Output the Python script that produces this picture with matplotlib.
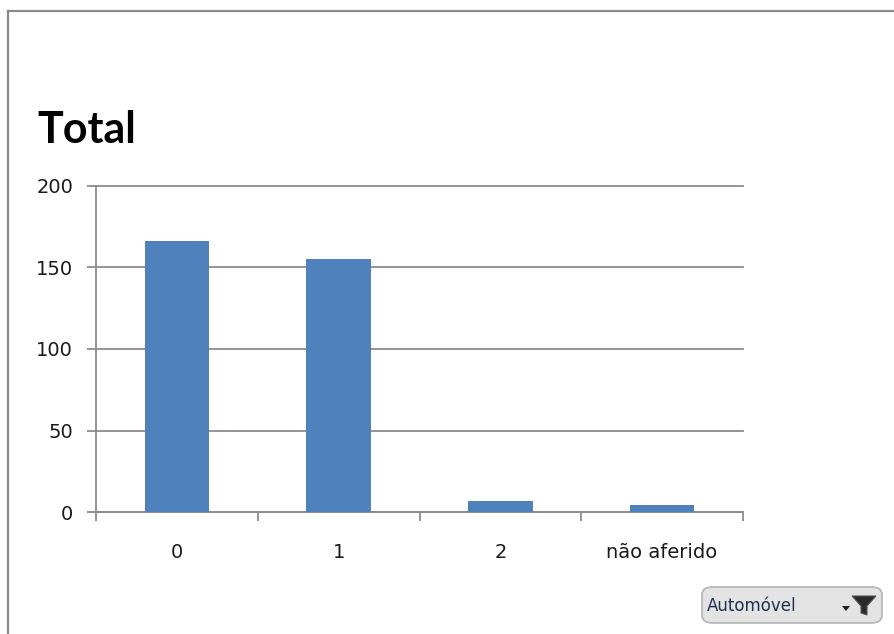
import matplotlib
matplotlib.use("Agg")
import matplotlib.pyplot as plt
from matplotlib.patches import FancyBboxPatch, Polygon
from matplotlib.lines import Line2D

categories = ["0", "1", "2", "não aferido"]
totals = [166, 155, 7, 4]
y_ticks = [0, 50, 100, 150, 200]

W, H = 894, 634
fig = plt.figure(figsize=(W / 100, H / 100), dpi=100)
fig.patch.set_facecolor("white")

def px(x, y):
    return x / W, 1 - y / H

# chart frame (left and top edges)
fig.add_artist(Line2D([8 / W, 8 / W], [0, 1 - 11 / H], color="#8a8a8a", lw=1.6))
fig.add_artist(Line2D([8 / W, 1], [1 - 11 / H, 1 - 11 / H], color="#8a8a8a", lw=1.6))

left, right = 96, 743
top, bottom = 186, 512
ax = fig.add_axes([left / W, 1 - bottom / H, (right - left) / W, (bottom - top) / H])

x = list(range(len(categories)))
ax.bar(x, totals, width=0.4, color="#4f81bd", zorder=3)

ax.set_xlim(-0.5, len(categories) - 0.5)
ax.set_ylim(0, 200)
ax.set_yticks(y_ticks)
ax.set_yticklabels([str(v) for v in y_ticks])
ax.set_xticks(x)
ax.set_xticklabels(categories)
ax.set_xticks([i - 0.5 for i in range(len(categories) + 1)], minor=True)

grid_c = "#8c8c8c"
ax.grid(axis="y", color=grid_c, lw=1.3, zorder=0)
for gl in ax.get_ygridlines():
    gl.set_clip_on(False)
for s in ["top", "right"]:
    ax.spines[s].set_visible(False)
for s in ["left", "bottom"]:
    ax.spines[s].set_color(grid_c)
    ax.spines[s].set_linewidth(1.3)

ax.tick_params(axis="y", length=6.5, width=1.3, color=grid_c, pad=10,
               labelsize=14, labelcolor="#1a1a1a")
ax.tick_params(axis="x", which="major", length=0, pad=22,
               labelsize=14, labelcolor="#1a1a1a")
ax.tick_params(axis="x", which="minor", length=6.5, width=1.3, color=grid_c)

fig.text(*px(37, 130), "Total", fontsize=31, fontweight="bold",
         family=["Lato", "DejaVu Sans"], va="center", ha="left", color="black")

# field button
btn = FancyBboxPatch((702 / W, 1 - 623 / H), (882 - 702) / W, (623 - 587) / H,
                     boxstyle="round,pad=0,rounding_size=0.012",
                     transform=fig.transFigure, facecolor="#e3e3e3",
                     edgecolor="#b4b4b4", lw=1.2)
fig.add_artist(btn)
fig.text(*px(707, 606), "Automóvel", fontsize=12, color="#1f3050",
         va="center", ha="left")
arrow = Polygon([px(842, 606), px(850, 606), px(846, 611)], closed=True,
                transform=fig.transFigure, facecolor="#222222", edgecolor="none")
fig.add_artist(arrow)
funnel = Polygon([px(852, 596), px(876, 596), px(867, 606), px(867, 615),
                  px(861, 613), px(861, 606)], closed=True,
                 transform=fig.transFigure, facecolor="#2a2a2a",
                 edgecolor="#555555", lw=0.8)
fig.add_artist(funnel)

fig.savefig("out.png", dpi=100)
